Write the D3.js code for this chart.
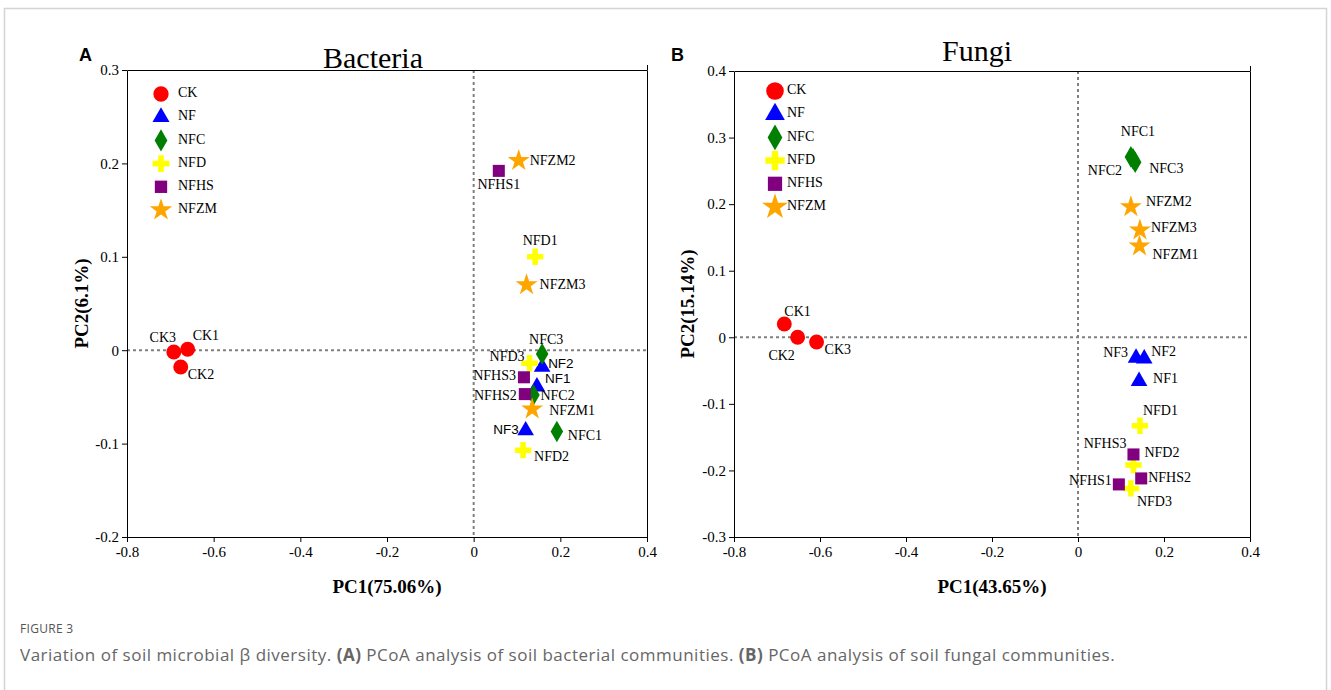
<!DOCTYPE html>
<html><head><meta charset="utf-8">
<script src="https://cdn.jsdelivr.net/npm/d3@7"></script>
<style>body{margin:0;background:#fff}svg{display:block}</style>
</head><body><svg id="c" width="1331" height="690"></svg>
<script>
// ---------- DATA ----------
const groups = ["CK", "NF", "NFC", "NFD", "NFHS", "NFZM"];

const bacteriaSamples = ["CK1","CK2","CK3","NF1","NF2","NF3","NFC1","NFC2","NFC3","NFD1","NFD2","NFD3","NFHS1","NFHS2","NFHS3","NFZM1","NFZM2","NFZM3"];
const bacteriaGroup   = ["CK","CK","CK","NF","NF","NF","NFC","NFC","NFC","NFD","NFD","NFD","NFHS","NFHS","NFHS","NFZM","NFZM","NFZM"];
const bacteriaPC1 = [-0.660,-0.676,-0.692, 0.146,0.158,0.120, 0.192,0.138,0.158, 0.142,0.114,0.129, 0.058,0.118,0.116, 0.135,0.104,0.122];
const bacteriaPC2 = [ 0.001,-0.018,-0.002,-0.039,-0.018,-0.086,-0.087,-0.048,-0.004, 0.100,-0.107,-0.014, 0.192,-0.047,-0.029,-0.063,0.203,0.070];

const fungiSamples = ["CK1","CK2","CK3","NF1","NF2","NF3","NFC1","NFC2","NFC3","NFD1","NFD2","NFD3","NFHS1","NFHS2","NFHS3","NFZM1","NFZM2","NFZM3"];
const fungiGroup   = ["CK","CK","CK","NF","NF","NF","NFC","NFC","NFC","NFD","NFD","NFD","NFHS","NFHS","NFHS","NFZM","NFZM","NFZM"];
const fungiPC1 = [-0.683,-0.652,-0.608, 0.142,0.154,0.135, 0.123,0.128,0.133, 0.144,0.129,0.123, 0.095,0.147,0.129, 0.143,0.123,0.144];
const fungiPC2 = [ 0.020, 0.000,-0.007,-0.066,-0.032,-0.031, 0.271,0.268,0.263,-0.133,-0.192,-0.227,-0.221,-0.212,-0.176, 0.137,0.196,0.161];

const bacteriaXTicks = [-0.8,-0.6,-0.4,-0.2,0,0.2,0.4];
const bacteriaYTicks = [-0.2,-0.1,0,0.1,0.2,0.3];
const fungiXTicks = [-0.8,-0.6,-0.4,-0.2,0,0.2,0.4];
const fungiYTicks = [-0.3,-0.2,-0.1,0,0.1,0.2,0.3,0.4];

// ---------- STYLE / LAYOUT ----------
const groupColor = {CK:"#ff0000", NF:"#0000ff", NFC:"#007f00", NFD:"#ffff00", NFHS:"#800080", NFZM:"#ffa500"};
const groupShape = {CK:d3.symbolCircle, NF:d3.symbolTriangle, NFC:d3.symbolDiamond, NFD:d3.symbolCross, NFHS:d3.symbolSquare, NFZM:d3.symbolStar};
const groupSize  = {CK:175, NF:120, NFC:135, NFD:150, NFHS:145, NFZM:150};

// label offsets [dx, dy, anchor, sans]
const bacteriaLabelPos = {
  CK1:[5,-12,"start"], CK2:[7,9,"start"], CK3:[-11,-13,"middle"],
  NF1:[8,-7,"start",1], NF2:[6,-3,"start",1], NF3:[-7,0,"end",1],
  NFC1:[11,5,"start"], NFC2:[7,2,"start"], NFC3:[4,-13,"middle"],
  NFD1:[5,-15,"middle"], NFD2:[11,8,"start"], NFD3:[-5,-5,"end"],
  NFHS1:[0,15,"middle"], NFHS2:[-8,3,"end"], NFHS3:[-8,-1,"end"],
  NFZM1:[17,3,"start"], NFZM2:[11,1,"start"], NFZM3:[13,1,"start"]
};
const fungiLabelPos = {
  CK1:[0,-11,"start"], CK2:[-16,19,"middle"], CK3:[8,9,"start"],
  NF1:[14,-1,"start"], NF2:[7,-6,"start"], NF3:[-8,-4,"end"],
  NFC1:[7,-24,"middle"], NFC2:[-11,13,"end"], NFC3:[14,8,"start"],
  NFD1:[3,-14,"start"], NFD2:[11,-11,"start"], NFD3:[6,14,"start"],
  NFHS1:[-7,-3,"end"], NFHS2:[7,0,"start"], NFHS3:[-7,-10,"end"],
  NFZM1:[13,10,"start"], NFZM2:[15,-4,"start"], NFZM3:[11,-1,"start"]
};

const serif = "'Liberation Serif','Times New Roman',serif";
const sans = "'Liberation Sans',Arial,sans-serif";
const svg = d3.select("#c");

// outer card border
svg.append("rect").attr("x",4.5).attr("y",8.5).attr("width",1322).attr("height",700)
  .attr("fill","none").attr("stroke","#d4d4d4").attr("stroke-width",1.5);

function panel(cfg){
  const g = svg.append("g");
  const x = d3.scaleLinear().domain([cfg.xTicks[0], cfg.xTicks[cfg.xTicks.length-1]]).range([cfg.left, cfg.right]);
  const y = d3.scaleLinear().domain([cfg.yTicks[0], cfg.yTicks[cfg.yTicks.length-1]]).range([cfg.bottom, cfg.top]);
  const fmt = d => d === 0 ? "0" : String(d);

  // zero lines
  g.append("line").attr("x1",x(0)).attr("x2",x(0)).attr("y1",cfg.top).attr("y2",cfg.bottom)
    .attr("stroke","#808080").attr("stroke-width",2).attr("stroke-dasharray","3,3");
  g.append("line").attr("x1",cfg.left).attr("x2",cfg.right).attr("y1",y(0)).attr("y2",y(0))
    .attr("stroke","#808080").attr("stroke-width",2).attr("stroke-dasharray","3,3");

  const xAxis = g.append("g").attr("transform",`translate(0,${cfg.bottom})`)
    .call(d3.axisBottom(x).tickValues(cfg.xTicks).tickFormat(fmt).tickSize(5).tickSizeOuter(0).tickPadding(4));
  const yAxis = g.append("g").attr("transform",`translate(${cfg.left},0)`)
    .call(d3.axisLeft(y).tickValues(cfg.yTicks).tickFormat(fmt).tickSize(5).tickSizeOuter(0).tickPadding(3));
  const xTop = g.append("g").attr("transform",`translate(0,${cfg.top})`)
    .call(d3.axisTop(x).tickValues([cfg.xTicks[cfg.xTicks.length-1]]).tickFormat("").tickSize(5).tickSizeOuter(0));
  const yRight = g.append("g").attr("transform",`translate(${cfg.right},0)`)
    .call(d3.axisRight(y).tickValues([cfg.yTicks[0]]).tickFormat("").tickSize(0).tickSizeOuter(0));
  [xAxis,yAxis,xTop,yRight].forEach(a=>{
    a.selectAll("path,line").attr("stroke","#000").attr("stroke-width",1);
    a.selectAll("text").attr("font-family",serif).attr("font-size",15).attr("fill","#000");
  });

  // title
  g.append("text").attr("x",cfg.titleX).attr("y",cfg.titleY).attr("text-anchor","middle")
    .attr("font-family",serif).attr("font-size",30).text(cfg.title);
  g.append("text").attr("x",cfg.letterX).attr("y",61).attr("font-family",sans).attr("font-weight","bold")
    .attr("font-size",18).text(cfg.letter);
  // axis titles
  g.append("text").attr("x",(cfg.left+cfg.right)/2).attr("y",593).attr("text-anchor","middle")
    .attr("font-family",serif).attr("font-weight","bold").attr("font-size",19).text(cfg.xTitle);
  g.append("text").attr("transform",`translate(${cfg.yTitleX},${(cfg.top+cfg.bottom)/2}) rotate(-90)`)
    .attr("text-anchor","middle").attr("dominant-baseline","middle")
    .attr("font-family",serif).attr("font-weight","bold").attr("font-size",19).text(cfg.yTitle);

  // legend
  groups.forEach((gr,i)=>{
    const ly = cfg.legendY + i*cfg.legendStep;
    g.append("path").attr("transform",`translate(${cfg.legendX},${ly})`)
      .attr("d", d3.symbol().type(groupShape[gr]).size(groupSize[gr]*cfg.legendScale)())
      .attr("fill",groupColor[gr]);
    g.append("text").attr("x",cfg.legendX+cfg.legendTextDx).attr("y",ly).attr("dominant-baseline","middle")
      .attr("font-family",serif).attr("font-size",14).text(gr);
  });

  // points
  const pts = cfg.samples.map((s,i)=>({s, g:cfg.group[i], x:cfg.pc1[i], y:cfg.pc2[i]}));
  g.selectAll("path.pt").data(pts).enter().append("path").attr("class","pt")
    .attr("transform",d=>`translate(${x(d.x)},${y(d.y)})`)
    .attr("d",d=>d3.symbol().type(groupShape[d.g]).size(groupSize[d.g])())
    .attr("fill",d=>groupColor[d.g]);
  g.selectAll("text.lab").data(pts).enter().append("text").attr("class","lab")
    .attr("x",d=>x(d.x)+cfg.labels[d.s][0]).attr("y",d=>y(d.y)+cfg.labels[d.s][1])
    .attr("text-anchor",d=>cfg.labels[d.s][2]).attr("dominant-baseline","middle")
    .attr("font-family",d=>cfg.labels[d.s][3]?sans:serif)
    .attr("font-size",d=>cfg.labels[d.s][3]?13.5:14)
    .text(d=>d.s);
}

panel({title:"Bacteria", titleX:373, titleY:68, letter:"A", letterX:79,
  left:127, right:647, top:70, bottom:537,
  xTicks:bacteriaXTicks, yTicks:bacteriaYTicks,
  xTitle:"PC1(75.06%)", yTitle:"PC2(6.1%)", yTitleX:84,
  samples:bacteriaSamples, group:bacteriaGroup, pc1:bacteriaPC1, pc2:bacteriaPC2, labels:bacteriaLabelPos,
  legendX:161, legendY:94, legendStep:23.2, legendTextDx:17, legendScale:1.05});

panel({title:"Fungi", titleX:977, titleY:61, letter:"B", letterX:671,
  left:734, right:1250, top:71, bottom:537,
  xTicks:fungiXTicks, yTicks:fungiYTicks,
  xTitle:"PC1(43.65%)", yTitle:"PC2(15.14%)", yTitleX:690,
  samples:fungiSamples, group:fungiGroup, pc1:fungiPC1, pc2:fungiPC2, labels:fungiLabelPos,
  legendX:775, legendY:91, legendStep:23.2, legendTextDx:12, legendScale:1.4});

// caption
svg.append("text").attr("x",20).attr("y",633).attr("font-family","'Open Sans',sans-serif")
  .attr("font-size",12).attr("letter-spacing",0.3).attr("fill","#555").text("FIGURE 3");
const cap = svg.append("text").attr("x",20).attr("y",661).attr("font-family","'Open Sans',sans-serif")
  .attr("font-size",17).attr("letter-spacing",0.5).attr("fill","#666");
cap.append("tspan").text("Variation of soil microbial β diversity. ");
cap.append("tspan").attr("font-weight","bold").text("(A)");
cap.append("tspan").text(" PCoA analysis of soil bacterial communities. ");
cap.append("tspan").attr("font-weight","bold").text("(B)");
cap.append("tspan").text(" PCoA analysis of soil fungal communities.");
</script></body></html>
